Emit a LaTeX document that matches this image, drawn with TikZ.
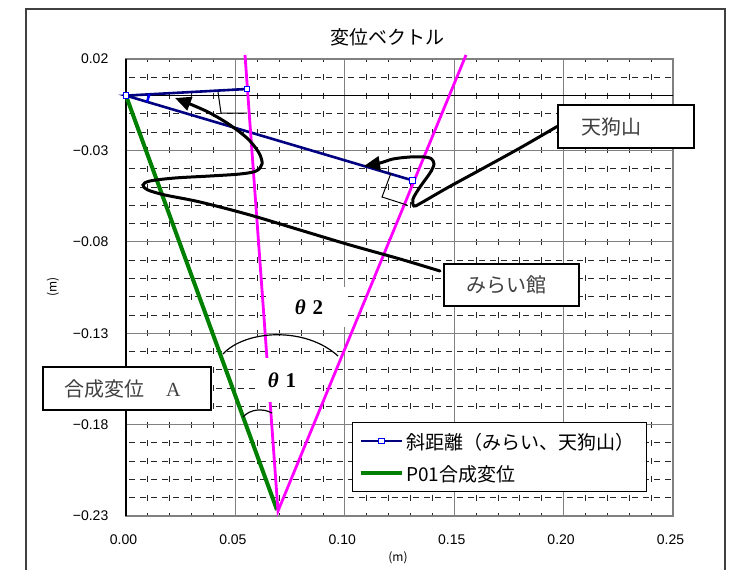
\documentclass[tikz,border=0pt]{standalone}
\usepackage{fontspec}
\setmainfont{Liberation Sans}
\newfontfamily\cjk{Noto Sans CJK JP}
\newfontfamily\serifrm{Liberation Serif}
\usetikzlibrary{arrows.meta}
\definecolor{navyb}{RGB}{0,0,128}
\definecolor{greenl}{RGB}{0,128,0}
\definecolor{magl}{RGB}{255,0,255}
\definecolor{gridmaj}{RGB}{128,128,128}
\tikzset{
  minorv/.style={black!85, line width=0.8pt, dash pattern=on 6pt off 12.28pt, dash phase=3pt},
  minorh/.style={black!85, line width=0.8pt, dash pattern=on 6pt off 4.94pt, dash phase=8pt},
  majorg/.style={gridmaj, line width=1.3pt},
  ticklab/.style={font=\fontsize{14}{14}\selectfont, inner sep=0pt},
  mk/.style={rectangle, draw=blue, fill=white, line width=1pt, minimum size=5.5pt, inner sep=0pt},
  labelbox/.style={draw=black, line width=1.8pt, fill=white, inner ysep=0pt, align=left,
     text=black!75, font=\cjk\fontsize{20}{20}\selectfont},
  thlab/.style={fill=white, inner sep=0pt, font=\serifrm\bfseries\fontsize{21}{21}\selectfont},
  arr/.style={line width=3pt, line cap=round, -{Triangle[length=16pt,width=14pt]}},
  anglemark/.style={line width=1pt, black},
  arcline/.style={line width=1.2pt, black}
}
\begin{document}
\begin{tikzpicture}[x=1pt,y=-1pt]
\useasboundingbox (0,0) rectangle (740,570);
\fill[white] (0,0) rectangle (740,570);
% outer chart frame
\draw[black!75, line width=1.5pt] (26,572) -- (26,9) -- (725,9) -- (725,572);
% title
\node[font=\cjk\fontsize{19}{19}\selectfont] (title) at (387,37) {変位ベクトル};
% minor grid
\foreach \i in {1,2,3,4,6,7,8,9,11,12,13,14,16,17,18,19,21,22,23,24} {
  \draw[minorv] ({126+\i*21.88},59) -- ({126+\i*21.88},516);
}
\foreach \j in {1,3,4,6,7,8,9,11,12,13,14,16,17,18,19,21,22,23,24} {
  \draw[minorh] (126,{59+\j*18.28}) -- (673,{59+\j*18.28});
}
% major grid
\foreach \i in {5,10,15,20} {
  \draw[majorg] ({126+\i*21.88},59) -- ({126+\i*21.88},516);
  \draw[majorg] (126,{59+\i*18.28}) -- (673,{59+\i*18.28});
}
\draw[majorg] (126,59) rectangle (673,516);
\draw[black, line width=1pt] (126,95.56) -- (673,95.56);
\draw[black, line width=1.2pt] (126,59) -- (126,516);
% tick labels
\foreach \k/\t in {0/0.02,1/−0.03,2/−0.08,3/−0.13,4/−0.18,5/−0.23} {
  \node[ticklab, anchor=east] (yl\k) at (108.5,{59+\k*91.4}) {\t};
}
\foreach \k/\t in {0/0.00,1/0.05,2/0.10,3/0.15,4/0.20,5/0.25} {
  \node[ticklab] (xl\k) at ({123.5+\k*109.4},540) {\t};
}
\node[font=\cjk\fontsize{12}{12}\selectfont] (xname) at (398,558) {(m)};
\node[font=\cjk\fontsize{12}{12}\selectfont, rotate=90] (yname) at (53,287) {(m)};
% data series
\coordinate (b0) at (126,95.6);
\coordinate (b1) at (246.8,89);
\coordinate (b2) at (412.6,180.4);
\coordinate (g1) at (277,510);
\draw[greenl, line width=4pt] (b0) -- (g1);
\draw[navyb, line width=2.6pt] (b1) -- (b0) -- (b2);
% magenta construction lines
\coordinate (V) at (278,511);
\coordinate (ML) at (245,55);
\coordinate (MR) at (466,55);
\draw[magl, line width=2.8pt] (ML) -- (V) -- (MR);
\node[mk] (mk0) at (b0) {};
\node[mk] (mk1) at (b1) {};
\node[mk] (mk2) at (b2) {};
\draw[blue, line width=2.5pt] (147,102) -- (149.5,94);
% right angle marks
\draw[anglemark] (218,92) -- (221,113) -- (247,113);
\draw[anglemark] (391,173) -- (382,197) -- (407,205);
% theta labels
\node[thlab, minimum width=77pt, minimum height=40pt] (th2) at (309,307) {{\itshape θ}\,\,2};
\node[thlab, minimum width=55pt, minimum height=44pt] (th1) at (282,380) {{\itshape θ}\,\,1};
% angle arcs
\draw[arcline] (223,354) .. controls (245,330) and (305,326) .. (338,356);
\draw[arcline] (243,417) .. controls (250,409) and (263,408) .. (272,413);
% callout boxes
\node[labelbox, text width=90pt, inner xsep=23pt, minimum height=43pt] (tengu) at (626,126.5) {天狗山};
\node[labelbox, text width=91pt, inner xsep=22pt, minimum height=42pt] (mirai) at (511.5,285) {みらい館};
\node[labelbox, text width=126pt, inner xsep=21pt, minimum height=43pt] (gousei) at (127,388.5) {合成変位\hspace{22pt}{\serifrm A}};
\coordinate (m0) at (440,271);
% arrows
\draw[arr] plot[smooth, tension=0.55] coordinates {(tengu.west) (520,148) (480,170) (447,188) (421,203) (414,206) (413,199) (420,187) (430,173) (434,164) (431,158.5) (424,157) (410,157) (393,159) (380,163) (364,166)};
\draw[arr] plot[smooth, tension=0.55] coordinates {(m0) (400,259) (350,245) (300,230) (250,215) (200,202) (165,195) (148,190) (143,185) (150,181) (175,178) (210,176) (240,174) (256,171) (262,164) (259,153) (248,139) (230,125) (210,113) (190,104) (175,98)};
% legend
\node[draw=black, line width=1pt, fill=white, minimum width=294pt, minimum height=69pt, inner sep=0pt] (legend) at (499,456.5) {};
\coordinate (la1) at (361,441);
\coordinate (lb1) at (402,441);
\draw[navyb, line width=2.6pt] (la1) -- (lb1);
\node[mk] (lmk) at (381.5,441) {};
\node[anchor=west, inner sep=0pt, font=\cjk\fontsize{19}{19}\selectfont] (lt1) at (406,442) {斜距離（みらい、天狗山）};
\coordinate (la2) at (361,473);
\coordinate (lb2) at (402,473);
\draw[greenl, line width=4pt] (la2) -- (lb2);
\node[anchor=west, inner sep=0pt, font=\cjk\fontsize{19}{19}\selectfont] (lt2) at (406,474) {P01合成変位};
\end{tikzpicture}
\end{document}
